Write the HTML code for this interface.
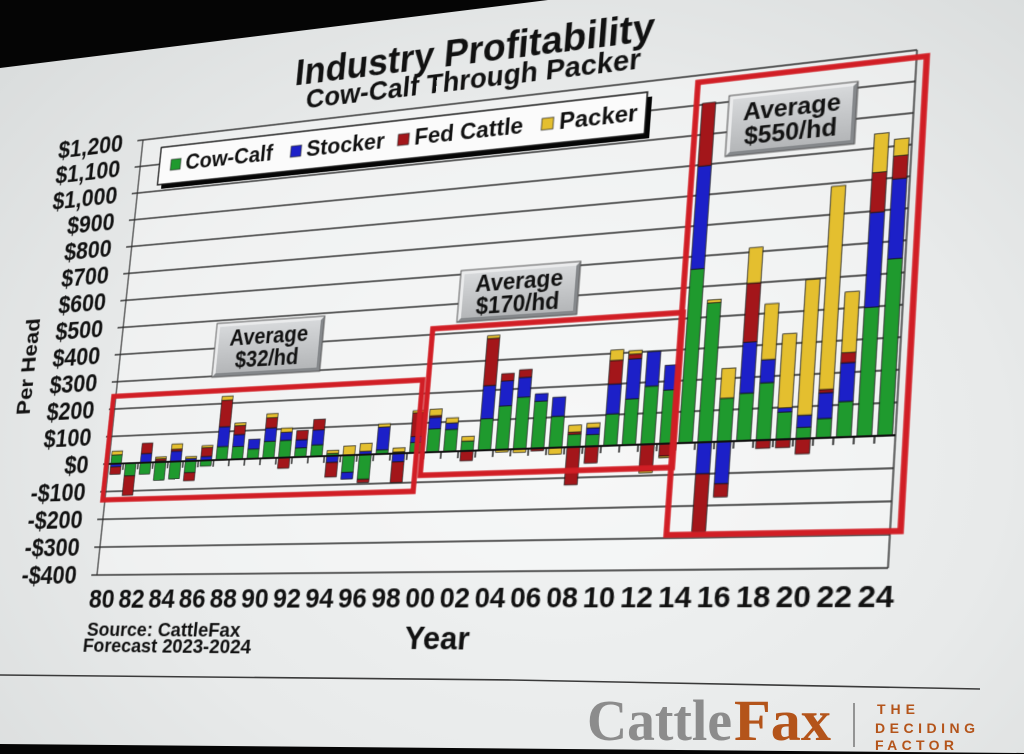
<!DOCTYPE html>
<html><head><meta charset="utf-8">
<style>
html{margin:0;padding:0;width:1024px;height:754px;overflow:hidden;}
body{margin:0;padding:0;width:1024px;height:754px;overflow:hidden;position:relative;
background:radial-gradient(ellipse at 55% 60%, #f2f4f4 0%, #e8eaea 55%, #d7dada 100%);
font-family:"Liberation Sans",sans-serif;}
#wrap{position:absolute;left:0;top:0;width:1024px;height:754px;overflow:hidden;}
#chart{position:absolute;left:0;top:0;width:810px;height:480px;transform-origin:0 0;
transform:matrix3d(0.773738,-0.121025,0,-0.000198274,-0.101367,0.87345,0,-0.0000570417,0,0,1,0,143,140,0,1);}
#chart svg{position:absolute;left:-170px;top:-130px;overflow:visible;}
#over{position:absolute;left:0;top:0;}
.g{fill:#1f9a2e}.b{fill:#1c20c8}.r{fill:#a3161a}.y{fill:#e4bf2f}
text{font-family:"Liberation Sans",sans-serif;font-weight:bold;fill:#111;}
</style></head><body>
<div id="wrap">
<div id="chart"><svg width="1020" height="720" viewBox="-170 -130 1020 720">
<defs>
<linearGradient id="lg" x1="0" y1="0" x2="0" y2="1"><stop offset="0" stop-color="#d6d8da"/><stop offset="1" stop-color="#b4b6b8"/></linearGradient>
</defs>
<!-- title -->
<text x="370" y="-41" text-anchor="middle" font-size="40" textLength="385" lengthAdjust="spacingAndGlyphs">Industry Profitability</text>
<text x="372" y="-14" text-anchor="middle" font-size="29" textLength="358" lengthAdjust="spacingAndGlyphs">Cow-Calf Through Packer</text>
<!-- plot bg -->
<rect x="0" y="0" width="810" height="480" fill="rgba(255,255,255,0.35)"/>
<!-- gridlines -->
<g stroke="#2a2a2a" stroke-width="1.3">
<path d="M0 0H810M0 30H810M0 60H810M0 90H810M0 120H810M0 150H810M0 180H810M0 210H810M0 240H810M0 270H810M0 300H810M0 330H810M0 390H810M0 420H810M0 450H810M0 480H810"/>
<path d="M0 0V480M810 0V480"/>
<path d="M-7 0H0M-7 30H0M-7 60H0M-7 90H0M-7 120H0M-7 150H0M-7 180H0M-7 210H0M-7 240H0M-7 270H0M-7 300H0M-7 330H0M-7 360H0M-7 390H0M-7 420H0M-7 450H0M-7 480H0"/>
</g>
<!-- y labels -->
<g font-size="27" text-anchor="end">
<text x="-25" y="9.5">$1,200</text><text x="-25" y="39.5">$1,100</text><text x="-25" y="69.5">$1,000</text>
<text x="-25" y="99.5">$900</text><text x="-25" y="129.5">$800</text><text x="-25" y="159.5">$700</text>
<text x="-25" y="189.5">$600</text><text x="-25" y="219.5">$500</text><text x="-25" y="249.5">$400</text>
<text x="-25" y="279.5">$300</text><text x="-25" y="309.5">$200</text><text x="-25" y="339.5">$100</text>
<text x="-25" y="369.5">$0</text><text x="-25" y="399.5">-$100</text><text x="-25" y="429.5">-$200</text>
<text x="-25" y="459.5">-$300</text><text x="-25" y="489.5">-$400</text>
</g>
<text transform="translate(-116,247) rotate(-90)" x="0" y="9" text-anchor="middle" font-size="25" textLength="109" lengthAdjust="spacingAndGlyphs">Per Head</text>
<!-- bars -->
<g stroke="#111" stroke-width="0.7">
<rect class="g" x="2.7" y="350.4" width="12.6" height="9.6"/><rect class="y" x="2.7" y="346.2" width="12.6" height="4.2"/><rect class="b" x="2.7" y="360" width="12.6" height="3.3"/><rect class="r" x="2.7" y="363.3" width="12.6" height="8.1"/>
<rect class="g" x="20.7" y="360" width="12.6" height="13.8"/><rect class="r" x="20.7" y="373.8" width="12.6" height="21"/>
<rect class="b" x="38.7" y="350.1" width="12.6" height="9.9"/><rect class="r" x="38.7" y="339" width="12.6" height="11.1"/><rect class="g" x="38.7" y="360" width="12.6" height="12.3"/>
<rect class="b" x="56.7" y="358.8" width="12.6" height="1.2"/><rect class="r" x="56.7" y="356.4" width="12.6" height="2.4"/><rect class="y" x="56.7" y="354.3" width="12.6" height="2.1"/><rect class="g" x="56.7" y="360" width="12.6" height="19.5"/>
<rect class="b" x="74.7" y="348.9" width="12.6" height="11.1"/><rect class="r" x="74.7" y="346.8" width="12.6" height="2.1"/><rect class="y" x="74.7" y="341.1" width="12.6" height="5.7"/><rect class="g" x="74.7" y="360" width="12.6" height="18.6"/>
<rect class="b" x="92.7" y="357.3" width="12.6" height="2.7"/><rect class="y" x="92.7" y="355.2" width="12.6" height="2.1"/><rect class="g" x="92.7" y="360" width="12.6" height="12.3"/><rect class="r" x="92.7" y="372.3" width="12.6" height="8.7"/>
<rect class="b" x="110.7" y="355.8" width="12.6" height="4.2"/><rect class="r" x="110.7" y="346.5" width="12.6" height="9.3"/><rect class="y" x="110.7" y="344.1" width="12.6" height="2.4"/><rect class="g" x="110.7" y="360" width="12.6" height="6"/>
<rect class="g" x="128.7" y="345.9" width="12.6" height="14.1"/><rect class="b" x="128.7" y="324.9" width="12.6" height="21"/><rect class="r" x="128.7" y="296.7" width="12.6" height="28.2"/><rect class="y" x="128.7" y="292.2" width="12.6" height="4.5"/>
<rect class="g" x="146.7" y="346.5" width="12.6" height="13.5"/><rect class="b" x="146.7" y="333.9" width="12.6" height="12.6"/><rect class="r" x="146.7" y="324.3" width="12.6" height="9.6"/><rect class="y" x="146.7" y="321.6" width="12.6" height="2.7"/>
<rect class="g" x="164.7" y="349.8" width="12.6" height="10.2"/><rect class="b" x="164.7" y="339.6" width="12.6" height="10.2"/>
<rect class="g" x="182.7" y="342.3" width="12.6" height="17.7"/><rect class="b" x="182.7" y="328.2" width="12.6" height="14.1"/><rect class="r" x="182.7" y="317.7" width="12.6" height="10.5"/><rect class="y" x="182.7" y="313.2" width="12.6" height="4.5"/>
<rect class="g" x="200.7" y="342" width="12.6" height="18"/><rect class="b" x="200.7" y="333.6" width="12.6" height="8.4"/><rect class="y" x="200.7" y="329.1" width="12.6" height="4.5"/><rect class="r" x="200.7" y="360" width="12.6" height="11.1"/>
<rect class="g" x="218.7" y="350.4" width="12.6" height="9.6"/><rect class="b" x="218.7" y="342" width="12.6" height="8.4"/><rect class="r" x="218.7" y="332.4" width="12.6" height="9.6"/>
<rect class="g" x="236.7" y="348" width="12.6" height="12"/><rect class="b" x="236.7" y="332.7" width="12.6" height="15.3"/><rect class="r" x="236.7" y="321.6" width="12.6" height="11.1"/>
<rect class="g" x="254.7" y="357.6" width="12.6" height="2.4"/><rect class="y" x="254.7" y="354.3" width="12.6" height="3.3"/><rect class="b" x="254.7" y="360" width="12.6" height="6.9"/><rect class="r" x="254.7" y="366.9" width="12.6" height="15"/>
<rect class="y" x="272.7" y="350.4" width="12.6" height="9.6"/><rect class="g" x="272.7" y="360" width="12.6" height="17.7"/><rect class="b" x="272.7" y="377.7" width="12.6" height="6.9"/>
<rect class="b" x="290.7" y="356.7" width="12.6" height="3.3"/><rect class="y" x="290.7" y="348.6" width="12.6" height="8.1"/><rect class="g" x="290.7" y="360" width="12.6" height="25.2"/><rect class="r" x="290.7" y="385.2" width="12.6" height="3.3"/>
<rect class="g" x="308.7" y="355.8" width="12.6" height="4.2"/><rect class="b" x="308.7" y="332.4" width="12.6" height="23.4"/><rect class="y" x="308.7" y="329.1" width="12.6" height="3.3"/>
<rect class="g" x="326.7" y="358.5" width="12.6" height="1.5"/><rect class="y" x="326.7" y="354.3" width="12.6" height="4.2"/><rect class="b" x="326.7" y="360" width="12.6" height="8.7"/><rect class="r" x="326.7" y="368.7" width="12.6" height="20.7"/>
<rect class="g" x="344.7" y="349.5" width="12.6" height="10.5"/><rect class="b" x="344.7" y="343.5" width="12.6" height="6"/><rect class="r" x="344.7" y="319.5" width="12.6" height="24"/><rect class="y" x="344.7" y="317.1" width="12.6" height="2.4"/>
<rect class="g" x="362.7" y="336.6" width="12.6" height="23.4"/><rect class="b" x="362.7" y="324.9" width="12.6" height="11.7"/><rect class="r" x="362.7" y="323.1" width="12.6" height="1.8"/><rect class="y" x="362.7" y="316.5" width="12.6" height="6.6"/>
<rect class="g" x="380.7" y="337.8" width="12.6" height="22.2"/><rect class="b" x="380.7" y="331.2" width="12.6" height="6.6"/><rect class="y" x="380.7" y="326.1" width="12.6" height="5.1"/>
<rect class="g" x="398.7" y="350.1" width="12.6" height="9.9"/><rect class="y" x="398.7" y="345.6" width="12.6" height="4.5"/><rect class="r" x="398.7" y="360" width="12.6" height="9.9"/>
<rect class="g" x="416.7" y="328.5" width="12.6" height="31.5"/><rect class="b" x="416.7" y="295.2" width="12.6" height="33.3"/><rect class="r" x="416.7" y="247.8" width="12.6" height="47.4"/><rect class="y" x="416.7" y="244.8" width="12.6" height="3"/>
<rect class="g" x="434.7" y="316.5" width="12.6" height="43.5"/><rect class="b" x="434.7" y="291.6" width="12.6" height="24.9"/><rect class="r" x="434.7" y="284.1" width="12.6" height="7.5"/><rect class="y" x="434.7" y="360" width="12.6" height="2.4"/>
<rect class="g" x="452.7" y="308.7" width="12.6" height="51.3"/><rect class="b" x="452.7" y="288.9" width="12.6" height="19.8"/><rect class="r" x="452.7" y="281.1" width="12.6" height="7.8"/><rect class="y" x="452.7" y="360" width="12.6" height="3.3"/>
<rect class="g" x="470.7" y="313.5" width="12.6" height="46.5"/><rect class="b" x="470.7" y="306" width="12.6" height="7.5"/><rect class="r" x="470.7" y="360" width="12.6" height="2.4"/>
<rect class="g" x="488.7" y="329.1" width="12.6" height="30.9"/><rect class="b" x="488.7" y="310.2" width="12.6" height="18.9"/><rect class="y" x="488.7" y="360" width="12.6" height="6.6"/>
<rect class="g" x="506.7" y="347.7" width="12.6" height="12.3"/><rect class="r" x="506.7" y="345.3" width="12.6" height="2.4"/><rect class="y" x="506.7" y="338.7" width="12.6" height="6.6"/><rect class="r" x="506.7" y="360" width="12.6" height="36.9"/>
<rect class="g" x="524.7" y="348.6" width="12.6" height="11.4"/><rect class="b" x="524.7" y="342" width="12.6" height="6.6"/><rect class="y" x="524.7" y="337.2" width="12.6" height="4.8"/><rect class="r" x="524.7" y="360" width="12.6" height="16.2"/>
<rect class="g" x="542.7" y="329.1" width="12.6" height="30.9"/><rect class="b" x="542.7" y="300" width="12.6" height="29.1"/><rect class="r" x="542.7" y="276.9" width="12.6" height="23.1"/><rect class="y" x="542.7" y="266.7" width="12.6" height="10.2"/>
<rect class="g" x="560.7" y="315.3" width="12.6" height="44.7"/><rect class="b" x="560.7" y="276.3" width="12.6" height="39"/><rect class="r" x="560.7" y="271.8" width="12.6" height="4.5"/><rect class="y" x="560.7" y="268.2" width="12.6" height="3.6"/>
<rect class="g" x="578.7" y="303.9" width="12.6" height="56.1"/><rect class="b" x="578.7" y="270.3" width="12.6" height="33.6"/><rect class="r" x="578.7" y="360" width="12.6" height="25.8"/><rect class="y" x="578.7" y="385.8" width="12.6" height="1.5"/>
<rect class="g" x="596.7" y="308.4" width="12.6" height="51.6"/><rect class="b" x="596.7" y="284.4" width="12.6" height="24"/><rect class="r" x="596.7" y="360" width="12.6" height="12"/><rect class="y" x="596.7" y="372" width="12.6" height="1.5"/>
<rect class="g" x="614.7" y="192.3" width="12.6" height="167.7"/><rect class="b" x="614.7" y="91.2" width="12.6" height="101.1"/><rect class="r" x="614.7" y="28.8" width="12.6" height="62.4"/>
<rect class="g" x="632.7" y="226.5" width="12.6" height="133.5"/><rect class="y" x="632.7" y="223.5" width="12.6" height="3"/><rect class="b" x="632.7" y="360" width="12.6" height="30"/><rect class="r" x="632.7" y="390" width="12.6" height="54.6"/>
<rect class="g" x="650.7" y="318.9" width="12.6" height="41.1"/><rect class="y" x="650.7" y="290.4" width="12.6" height="28.5"/><rect class="b" x="650.7" y="360" width="12.6" height="39.9"/><rect class="r" x="650.7" y="399.9" width="12.6" height="12.3"/>
<rect class="g" x="668.7" y="315" width="12.6" height="45"/><rect class="b" x="668.7" y="266.4" width="12.6" height="48.6"/><rect class="r" x="668.7" y="210" width="12.6" height="56.4"/><rect class="y" x="668.7" y="175.8" width="12.6" height="34.2"/>
<rect class="g" x="686.7" y="306" width="12.6" height="54"/><rect class="b" x="686.7" y="284.1" width="12.6" height="21.9"/><rect class="y" x="686.7" y="231" width="12.6" height="53.1"/><rect class="r" x="686.7" y="360" width="12.6" height="7.8"/>
<rect class="g" x="704.7" y="334.5" width="12.6" height="25.5"/><rect class="b" x="704.7" y="330.6" width="12.6" height="3.9"/><rect class="y" x="704.7" y="260.7" width="12.6" height="69.9"/><rect class="r" x="704.7" y="360" width="12.6" height="7.8"/>
<rect class="g" x="722.7" y="349.5" width="12.6" height="10.5"/><rect class="b" x="722.7" y="338.1" width="12.6" height="11.4"/><rect class="y" x="722.7" y="210.6" width="12.6" height="127.5"/><rect class="r" x="722.7" y="360" width="12.6" height="14.1"/>
<rect class="g" x="740.7" y="342" width="12.6" height="18"/><rect class="b" x="740.7" y="318" width="12.6" height="24"/><rect class="r" x="740.7" y="315" width="12.6" height="3"/><rect class="y" x="740.7" y="123" width="12.6" height="192"/>
<rect class="g" x="758.7" y="327" width="12.6" height="33"/><rect class="b" x="758.7" y="291" width="12.6" height="36"/><rect class="r" x="758.7" y="281.7" width="12.6" height="9.3"/><rect class="y" x="758.7" y="224.7" width="12.6" height="57"/>
<rect class="g" x="776.7" y="240.6" width="12.6" height="119.4"/><rect class="b" x="776.7" y="151.2" width="12.6" height="89.4"/><rect class="r" x="776.7" y="113.4" width="12.6" height="37.8"/><rect class="y" x="776.7" y="76.5" width="12.6" height="36.9"/>
<rect class="g" x="794.7" y="196.5" width="12.6" height="163.5"/><rect class="b" x="794.7" y="121.2" width="12.6" height="75.3"/><rect class="r" x="794.7" y="99.6" width="12.6" height="21.6"/><rect class="y" x="794.7" y="83.4" width="12.6" height="16.2"/>
</g>
<!-- zero line + ticks -->
<path stroke="#111" stroke-width="2" d="M0 360H810"/>
<path stroke="#111" stroke-width="1.4" d="M18 360v7M36 360v7M54 360v7M72 360v7M90 360v7M108 360v7M126 360v7M144 360v7M162 360v7M180 360v7M198 360v7M216 360v7M234 360v7M252 360v7M270 360v7M288 360v7M306 360v7M324 360v7M342 360v7M360 360v7M378 360v7M396 360v7M414 360v7M432 360v7M450 360v7M468 360v7M486 360v7M504 360v7M522 360v7M540 360v7M558 360v7M576 360v7M594 360v7M612 360v7M630 360v7M648 360v7M666 360v7M684 360v7M702 360v7M720 360v7M738 360v7M756 360v7M774 360v7M792 360v7"/>
<!-- red boxes -->
<g fill="none" stroke="#d11e25" stroke-width="5.5">
<rect x="-3" y="286" width="355" height="113"/>
<rect x="358" y="234" width="252" height="149"/>
<rect x="609" y="7" width="210" height="440"/>
</g>
<!-- average labels -->
<g>
<rect x="114" y="213" width="124" height="58" fill="#85888b"/>
<polygon points="114,213 238,213 234,217 118,217 118,267 114,271" fill="#eaebec"/>
<rect x="118" y="217" width="116" height="50" fill="url(#lg)"/>
<rect x="114" y="213" width="124" height="58" fill="none" stroke="#555" stroke-width="1"/>
<text x="176" y="238" text-anchor="middle" font-size="23">Average</text>
<text x="176" y="262" text-anchor="middle" font-size="23">$32/hd</text>

<rect x="383" y="176" width="123" height="53" fill="#85888b"/>
<polygon points="383,176 506,176 502,180 387,180 387,225 383,229" fill="#eaebec"/>
<rect x="387" y="180" width="115" height="45" fill="url(#lg)"/>
<rect x="383" y="176" width="123" height="53" fill="none" stroke="#555" stroke-width="1"/>
<text x="444.5" y="199" text-anchor="middle" font-size="23">Average</text>
<text x="444.5" y="222" text-anchor="middle" font-size="23">$170/hd</text>

<rect x="640" y="24" width="119" height="60" fill="#85888b"/>
<polygon points="640,24 759,24 755,28 644,28 644,80 640,84" fill="#eaebec"/>
<rect x="644" y="28" width="111" height="52" fill="url(#lg)"/>
<rect x="640" y="24" width="119" height="60" fill="none" stroke="#555" stroke-width="1"/>
<text x="699.5" y="50" text-anchor="middle" font-size="23">Average</text>
<text x="699.5" y="74" text-anchor="middle" font-size="23">$550/hd</text>
</g>
<!-- legend -->
<rect x="29" y="16" width="536" height="42" fill="#050505"/>
<rect x="24" y="11" width="536" height="42" fill="#fbfbfb" stroke="#111" stroke-width="1.5"/>
<g stroke="#333" stroke-width="0.8">
<rect class="g" x="38" y="26" width="12" height="12"/>
<rect class="b" x="181" y="26" width="12" height="12"/>
<rect class="r" x="302" y="26" width="12" height="12"/>
<rect class="y" x="455" y="26" width="12" height="12"/>
</g>
<g font-size="24">
<text x="56" y="39">Cow-Calf</text>
<text x="199" y="39">Stocker</text>
<text x="320" y="39">Fed Cattle</text>
<text x="473" y="39">Packer</text>
</g>
<!-- x labels -->
<g font-size="28" text-anchor="middle">
<text x="9" y="515">80</text><text x="45" y="515">82</text><text x="81" y="515">84</text><text x="117" y="515">86</text>
<text x="153" y="515">88</text><text x="189" y="515">90</text><text x="225" y="515">92</text><text x="261" y="515">94</text>
<text x="297" y="515">96</text><text x="333" y="515">98</text><text x="369" y="515">00</text><text x="405" y="515">02</text>
<text x="441" y="515">04</text><text x="477" y="515">06</text><text x="513" y="515">08</text><text x="549" y="515">10</text>
<text x="585" y="515">12</text><text x="621" y="515">14</text><text x="657" y="515">16</text><text x="693" y="515">18</text>
<text x="729" y="515">20</text><text x="765" y="515">22</text><text x="801" y="515">24</text>
</g>
<text x="390" y="556" text-anchor="middle" font-size="32">Year</text>
<text x="-5" y="545" font-size="20" textLength="181" lengthAdjust="spacingAndGlyphs">Source: CattleFax</text>
<text x="-8" y="562" font-size="20" textLength="198" lengthAdjust="spacingAndGlyphs">Forecast 2023-2024</text>
</svg></div>
<svg id="over" width="1024" height="754" viewBox="0 0 1024 754">
<polyline points="0,675 512,680 980,689" fill="none" stroke="#3a3a3a" stroke-width="1.6"/>
<text x="587" y="740" font-size="58" textLength="145" lengthAdjust="spacingAndGlyphs" style="font-family:'Liberation Serif',serif;fill:#8c8c8c">Cattle</text>
<text x="734" y="740" font-size="58" textLength="97" lengthAdjust="spacingAndGlyphs" style="font-family:'Liberation Serif',serif;fill:#b4541a">Fax</text>
<line x1="854" y1="703" x2="854" y2="747" stroke="#777" stroke-width="1.5"/>
<text x="877" y="714" font-size="14" textLength="38" lengthAdjust="spacing" style="fill:#b4541a">THE</text>
<text x="875" y="733" font-size="14" textLength="100" lengthAdjust="spacing" style="fill:#b4541a">DECIDING</text>
<text x="875" y="750" font-size="14" textLength="79" lengthAdjust="spacing" style="fill:#b4541a">FACTOR</text>
<polygon points="0,0 548,0 0,68" fill="#050505"/>
<polygon points="0,744 1024,753 1024,754 0,754" fill="#050505"/>
</svg>
</div>
</body></html>
